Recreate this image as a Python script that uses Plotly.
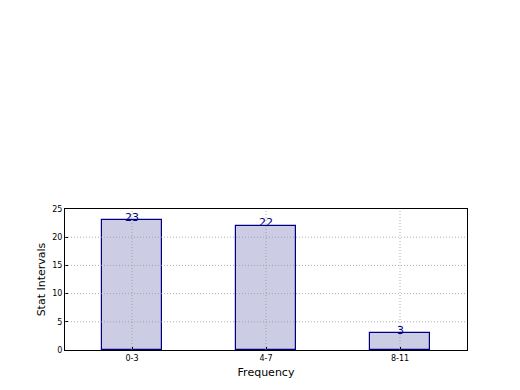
import plotly.graph_objects as go

categories = ["0-3", "4-7", "8-11"]
counts = [23, 22, 3]
y_ticks = [0, 5, 10, 15, 20, 25]

fig = go.Figure()
fig.add_trace(go.Bar(
    x=list(range(len(categories))), y=counts, width=0.45,
    marker=dict(color="rgb(204,204,229)", line=dict(color="#000080", width=1.2)),
    showlegend=False,
))
for i, v in enumerate(counts):
    fig.add_annotation(x=i, y=v, text=str(v), showarrow=False, yanchor="middle", yshift=3,
                       font=dict(family="DejaVu Sans", size=11, color="#000080"))

grid = dict(color="rgba(150,150,150,0.75)", width=1, dash="1px,2px")
for i in range(len(categories)):
    fig.add_shape(type="line", xref="x", yref="paper", x0=i, x1=i, y0=0, y1=1,
                  line=grid, layer="above")
for t in y_ticks[1:-1]:
    fig.add_shape(type="line", xref="paper", yref="y", x0=0, x1=1, y0=t, y1=t,
                  line=grid, layer="above")

fig.update_layout(
    width=520, height=390,
    margin=dict(l=65, r=53, t=209, b=40),
    paper_bgcolor="white", plot_bgcolor="white",
    font=dict(family="DejaVu Sans", color="black"),
    bargap=0,
)
fig.update_xaxes(
    range=[-0.5, 2.5], tickvals=list(range(len(categories))), ticktext=categories,
    showline=True, linecolor="black", linewidth=1, mirror=True, showgrid=False, zeroline=False,
    ticks="inside", ticklen=3, tickcolor="black", tickfont=dict(size=8),
    title=dict(text="Frequency", font=dict(size=11), standoff=6), layer="above traces",
)
fig.update_yaxes(
    range=[0, 25], tickvals=y_ticks, showline=True, linecolor="black", linewidth=1, mirror=True,
    showgrid=False, zeroline=False,
    ticks="inside", ticklen=3, tickcolor="black", tickfont=dict(size=8),
    title=dict(text="Stat Intervals", font=dict(size=11), standoff=4), layer="above traces",
)
fig.write_html("out.html")
